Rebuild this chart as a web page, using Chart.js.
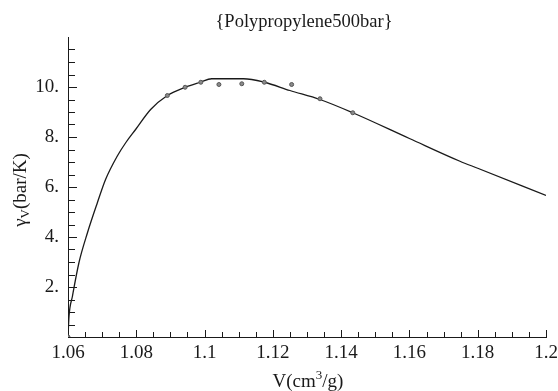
<!DOCTYPE html>
<html>
<head>
<meta charset="utf-8">
<script src="https://cdn.jsdelivr.net/npm/chart.js@4/dist/chart.umd.min.js"></script>
<style>
  html, body { margin: 0; padding: 0; background: #fff; }
  #wrap { width: 558px; height: 391px; }
</style>
</head>
<body>
<div id="wrap"><canvas id="c" width="558" height="391"></canvas></div>
<script>
// ---- data ----
const titleText = "{Polypropylene500bar}";
const xTitleMain = "V(cm";
const xTitleSup = "3";
const xTitleEnd = "/g)";
const yTitleMain = "\u03B3";
const yTitleSub = "V";
const yTitleEnd = "(bar/K)";

// model curve
const curveV =     [1.06, 1.0603, 1.0613, 1.0632, 1.0657, 1.0686, 1.071, 1.0744, 1.0769, 1.0798, 1.0842, 1.0891, 1.0943, 1.0987, 1.1021, 1.1114, 1.1175, 1.125, 1.1338, 1.1434, 1.16, 1.1748, 1.18, 1.2];
const curveGamma = [0,    0.83,   1.63,   2.97,   4.17,   5.37,   6.3,   7.23,   7.77,   8.3,    9.1,    9.66,   9.99,   10.19,  10.33,  10.33,  10.19,  9.86,  9.5,    8.97,   7.94, 7.03,   6.75, 5.66];

// experimental points
const dataV =     [1.06, 1.0891, 1.0943, 1.0989, 1.1042, 1.1109, 1.1175, 1.1255, 1.1338, 1.1434];
const dataGamma = [0,    9.66,   9.99,   10.19,  10.1,   10.13,  10.19,  10.1,   9.53,   8.97];

// axes
const xMin = 1.06, xMax = 1.2, xMinorStep = 0.005, xMajorStep = 0.02;
const yMin = 0, yMax = 12, yMinorStep = 0.5, yMajorStep = 2;

const FONT = "'Liberation Serif', 'Times New Roman', serif";
const INK = "#1a1a1a";

function isMultiple(v, step) {
  const r = v / step;
  return Math.abs(r - Math.round(r)) < 1e-6;
}

const inwardTicks = {
  id: 'inwardTicks',
  afterDraw(chart) {
    const ctx = chart.ctx;
    const xs = chart.scales.x, ys = chart.scales.y;
    const area = chart.chartArea;
    ctx.save();
    ctx.strokeStyle = INK;
    ctx.lineWidth = 1;
    ctx.beginPath();
    xs.ticks.forEach(t => {
      const px = Math.round(xs.getPixelForValue(t.value)) + 0.5;
      if (Math.abs(t.value - xMin) < 1e-9) return;
      const len = isMultiple(t.value, xMajorStep) ? 7 : 5;
      ctx.moveTo(px, area.bottom);
      ctx.lineTo(px, area.bottom - len);
    });
    ys.ticks.forEach(t => {
      if (t.value <= yMin + 1e-9 || t.value >= yMax - 1e-9) return;
      const py = Math.round(ys.getPixelForValue(t.value)) + 0.5;
      const len = isMultiple(t.value, yMajorStep) ? 9 : 7;
      ctx.moveTo(area.left, py);
      ctx.lineTo(area.left + len, py);
    });
    ctx.stroke();

    ctx.fillStyle = INK;
    const fMain = "19px " + FONT, fSmall = "13px " + FONT;

    // title
    ctx.font = "18.5px " + FONT;
    ctx.textAlign = 'center';
    ctx.textBaseline = 'middle';
    ctx.fillText(titleText, 304, 22);
    ctx.textAlign = 'left';
    ctx.textBaseline = 'alphabetic';

    // x title
    ctx.font = fMain;
    const w1 = ctx.measureText(xTitleMain).width;
    const w3 = ctx.measureText(xTitleEnd).width;
    ctx.font = fSmall;
    const w2 = ctx.measureText(xTitleSup).width;
    const totalX = w1 + w2 + w3;
    const cx = (area.left + area.right) / 2 + 1;
    const x0 = cx - totalX / 2;
    const by = 387;
    ctx.font = fMain; ctx.fillText(xTitleMain, x0, by);
    ctx.font = fSmall; ctx.fillText(xTitleSup, x0 + w1, by - 8);
    ctx.font = fMain; ctx.fillText(xTitleEnd, x0 + w1 + w2, by);

    // y title (rotated)
    ctx.save();
    ctx.translate(26, 190);
    ctx.rotate(-Math.PI / 2);
    ctx.font = fMain;
    const a1 = ctx.measureText(yTitleMain).width;
    const a3 = ctx.measureText(yTitleEnd).width;
    ctx.font = fSmall;
    const a2 = ctx.measureText(yTitleSub).width;
    const y0 = -(a1 + a2 + a3) / 2;
    ctx.font = fMain; ctx.fillText(yTitleMain, y0, 0);
    ctx.font = fSmall; ctx.fillText(yTitleSub, y0 + a1, 3);
    ctx.font = fMain; ctx.fillText(yTitleEnd, y0 + a1 + a2, 0);
    ctx.restore();
    ctx.restore();
  }
};

const curvePts = curveV.map((v, i) => ({ x: v, y: curveGamma[i] }));
const dataPts = dataV.map((v, i) => ({ x: v, y: dataGamma[i] }));

new Chart(document.getElementById('c'), {
  type: 'scatter',
  data: {
    datasets: [
      {
        label: 'model',
        data: curvePts,
        showLine: true,
        borderColor: INK,
        borderWidth: 1.3,
        pointRadius: 0,
        cubicInterpolationMode: 'monotone',
        order: 2
      },
      {
        label: 'data',
        data: dataPts,
        showLine: false,
        pointRadius: 2,
        pointBackgroundColor: '#8a8a8a',
        pointBorderColor: '#555',
        pointBorderWidth: 1,
        order: 1
      }
    ]
  },
  options: {
    responsive: false,
    animation: false,
    devicePixelRatio: 1,
    layout: { padding: { left: 0, right: 12, top: 37, bottom: 0 } },
    plugins: {
      legend: { display: false },
      tooltip: { enabled: false },
      title: { display: false }
    },
    scales: {
      x: {
        type: 'linear',
        min: xMin, max: xMax,
        grid: { display: false, drawTicks: false },
        border: { display: true, color: INK, width: 1 },
        ticks: {
          stepSize: xMinorStep,
          autoSkip: false,
          maxRotation: 0,
          padding: 5,
          color: INK,
          font: { family: FONT, size: 19 },
          callback: (v) => isMultiple(v, xMajorStep) ? String(parseFloat(v.toFixed(2))) : ''
        },
        afterFit(scale) { scale.height = 54; scale.paddingRight = 0; scale.paddingLeft = 0; }
      },
      y: {
        type: 'linear',
        min: yMin, max: yMax,
        grid: { display: false, drawTicks: false },
        border: { display: true, color: INK, width: 1 },
        ticks: {
          stepSize: yMinorStep,
          autoSkip: false,
          padding: 9,
          color: INK,
          font: { family: FONT, size: 19 },
          callback: (v) => (isMultiple(v, yMajorStep) && v > yMin && v < yMax) ? (v + '.') : ''
        },
        afterFit(scale) { scale.width = 68; scale.paddingTop = 0; scale.paddingBottom = 0; }
      }
    }
  },
  plugins: [inwardTicks]
});
</script>
</body>
</html>
